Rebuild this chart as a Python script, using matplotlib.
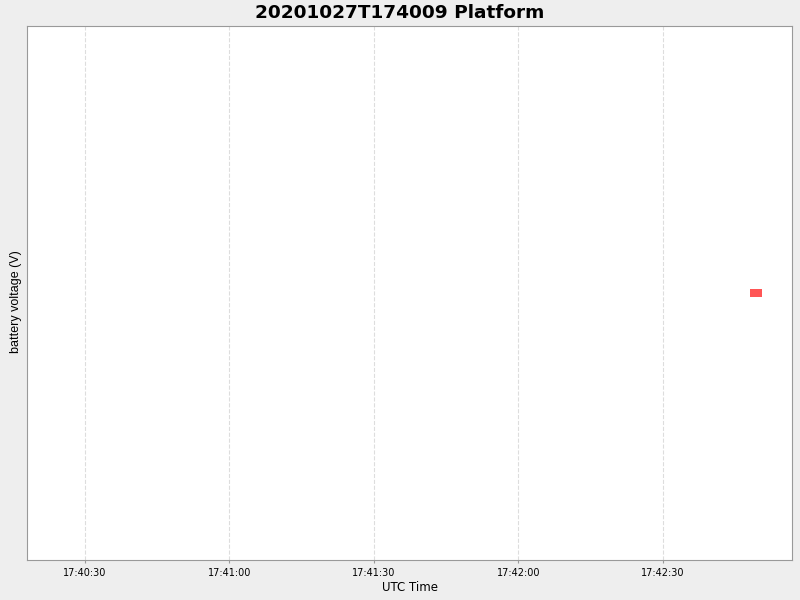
import matplotlib
matplotlib.use("Agg")
import matplotlib.pyplot as plt
import matplotlib.dates as mdates
from datetime import datetime

# donnees
times = [datetime(2020, 10, 27, 17, 42, 49, 300000)]
voltage = [12.5]
ticks = [datetime(2020, 10, 27, 17, 40, 30), datetime(2020, 10, 27, 17, 41, 0),
         datetime(2020, 10, 27, 17, 41, 30), datetime(2020, 10, 27, 17, 42, 0),
         datetime(2020, 10, 27, 17, 42, 30)]
x_min = datetime(2020, 10, 27, 17, 40, 18)
x_max = datetime(2020, 10, 27, 17, 42, 56, 800000)

fig = plt.figure(figsize=(8, 6), dpi=100, facecolor="#eeeeee")
ax = fig.add_axes([0.03375, 0.0667, 0.95625, 0.89])
ax.set_facecolor("white")

rect = [(-1, -0.64), (1, -0.64), (1, 0.64), (-1, 0.64)]
ax.plot(times, voltage, linestyle="none", marker=rect, markersize=8.5,
        color="#ff5555", markeredgewidth=0)

ax.set_xlim(x_min, x_max)
ax.set_ylim(voltage[0] - 1, voltage[0] + 1)
ax.set_xticks(ticks)
ax.xaxis.set_major_formatter(mdates.DateFormatter("%H:%M:%S"))
ax.tick_params(axis="x", labelsize=7, length=2, color="#999999", pad=4)
ax.set_yticks([])
ax.grid(axis="x", color="#dddddd", linestyle="--", linewidth=0.8)

for s in ax.spines.values():
    s.set_color("#999999")

ax.set_xlabel("UTC Time", fontsize=8.5, labelpad=2)
ax.set_ylabel("battery voltage (V)", fontsize=9, family="Liberation Sans")
ax.yaxis.set_label_coords(-0.0065, 0.483)
fig.suptitle("20201027T174009 Platform", x=0.5, y=0.993, fontsize=13.3,
             fontweight="bold", va="top")

fig.savefig("out.png", dpi=100, facecolor=fig.get_facecolor())
